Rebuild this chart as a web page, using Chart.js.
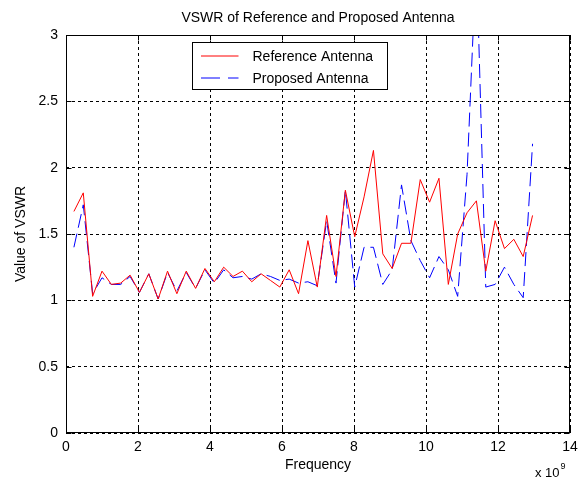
<!DOCTYPE html>
<html>
<head>
<meta charset="utf-8">
<title>VSWR of Reference and Proposed Antenna</title>
<script src="https://cdn.jsdelivr.net/npm/chart.js@4.4.1/dist/chart.umd.min.js"></script>
<style>
  html, body { margin: 0; padding: 0; background: #fff; }
  #chart { display: block; }
</style>
</head>
<body>
<canvas id="chart" width="585" height="481"></canvas>
<script>
// frequency points, in units of 1e9 Hz (axis shows "x 10^9")
const frequency = [
  0.22, 0.48, 0.74, 1.00, 1.26, 1.52, 1.78, 2.04, 2.30, 2.56,
  2.82, 3.08, 3.34, 3.60, 3.86, 4.12, 4.38, 4.64, 4.90, 5.16,
  5.42, 5.68, 5.94, 6.20, 6.46, 6.72, 6.98, 7.24, 7.50, 7.76,
  8.02, 8.28, 8.54, 8.80, 9.06, 9.32, 9.58, 9.84, 10.10, 10.36,
  10.62, 10.88, 11.14, 11.40, 11.66, 11.92, 12.18, 12.44, 12.70, 12.96
];

const referenceVswr = [
  1.67, 1.81, 1.03, 1.22, 1.12, 1.13, 1.19, 1.06, 1.20, 1.01,
  1.22, 1.05, 1.22, 1.09, 1.24, 1.14, 1.25, 1.18, 1.22, 1.14,
  1.20, 1.15, 1.10, 1.23, 1.05, 1.45, 1.10, 1.64, 1.18, 1.83,
  1.48, 1.78, 2.13, 1.35, 1.24, 1.43, 1.43, 1.91, 1.74, 1.92,
  1.12, 1.50, 1.66, 1.75, 1.22, 1.60, 1.39, 1.46, 1.33, 1.64
];

const proposedVswr = [
  1.40, 1.72, 1.05, 1.17, 1.12, 1.12, 1.18, 1.06, 1.20, 1.01,
  1.21, 1.07, 1.21, 1.09, 1.23, 1.13, 1.23, 1.17, 1.18, 1.16,
  1.20, 1.18, 1.15, 1.16, 1.13, 1.14, 1.11, 1.60, 1.13, 1.83,
  1.10, 1.40, 1.40, 1.12, 1.23, 1.87, 1.45, 1.30, 1.17, 1.33,
  1.23, 1.03, 1.95, 3.60, 1.10, 1.12, 1.25, 1.12, 1.02, 2.18
];

const xTicks = [0, 2, 4, 6, 8, 10, 12, 14];
const yTicks = [0, 0.5, 1, 1.5, 2, 2.5, 3];

const toPoints = (ys) => frequency.map((f, i) => ({ x: f, y: ys[i] }));

Chart.defaults.font.family = "'Liberation Sans', Arial, sans-serif";
Chart.defaults.font.size = 14;
Chart.defaults.color = '#000';

// matlab style: box around the axes, ticks pointing inward, legend box inside the plot
const matlabFrame = {
  id: 'matlabFrame',
  beforeDraw(chart) {
    const { ctx, width, height } = chart;
    ctx.save();
    ctx.fillStyle = '#fff';
    ctx.fillRect(0, 0, width, height);
    ctx.restore();
  },
  afterDraw(chart) {
    const { ctx, chartArea: a, scales: { x, y } } = chart;
    const left = Math.round(a.left) + 0.5;
    const right = Math.round(a.right) - 0.5;
    const top = Math.round(a.top) + 0.5;
    const bottom = Math.round(a.bottom) - 0.5;

    ctx.save();
    ctx.strokeStyle = '#000';
    ctx.lineWidth = 1;
    ctx.setLineDash([]);
    ctx.strokeRect(left, top, right - left, bottom - top);

    // inward tick marks
    ctx.beginPath();
    xTicks.forEach(v => {
      const px = Math.round(x.getPixelForValue(v)) + 0.5;
      ctx.moveTo(px, bottom); ctx.lineTo(px, bottom - 5);
      ctx.moveTo(px, top); ctx.lineTo(px, top + 5);
    });
    yTicks.forEach(v => {
      const py = Math.round(y.getPixelForValue(v)) + 0.5;
      ctx.moveTo(left, py); ctx.lineTo(left + 5, py);
      ctx.moveTo(right, py); ctx.lineTo(right - 5, py);
    });
    ctx.stroke();

    // legend box
    const lx = left + 126, ly = top + 7, lw = 195, lh = 47;
    ctx.fillStyle = '#fff';
    ctx.fillRect(lx, ly, lw, lh);
    ctx.strokeRect(lx, ly, lw, lh);

    const sets = chart.data.datasets;
    ctx.font = "14px 'Liberation Sans', Arial, sans-serif";
    ctx.textBaseline = 'middle';
    ctx.textAlign = 'left';
    sets.forEach((ds, i) => {
      const rowY = ly + 13.5 + i * 22;
      ctx.strokeStyle = ds.borderColor;
      ctx.setLineDash(i === 1 ? [19, 8] : []);
      ctx.beginPath();
      ctx.moveTo(lx + 8.5, rowY);
      ctx.lineTo(lx + 46, rowY);
      ctx.stroke();
      ctx.fillStyle = '#000';
      ctx.fillText(ds.label, lx + 60, rowY + 1);
    });

    // exponent label under the x axis
    ctx.setLineDash([]);
    ctx.fillStyle = '#000';
    ctx.textBaseline = 'alphabetic';
    ctx.font = "13px 'Liberation Sans', Arial, sans-serif";
    const base = 'x 10';
    ctx.fillText(base, 535, 477);
    const w = ctx.measureText(base).width;
    ctx.font = "9px 'Liberation Sans', Arial, sans-serif";
    ctx.fillText('9', 535 + w + 1, 469);
    ctx.restore();
  }
};

new Chart(document.getElementById('chart'), {
  type: 'line',
  data: {
    datasets: [
      {
        label: 'Reference Antenna',
        data: toPoints(referenceVswr),
        borderColor: '#ff0000',
        borderWidth: 1,
        pointRadius: 0,
        tension: 0,
        fill: false
      },
      {
        label: 'Proposed Antenna',
        data: toPoints(proposedVswr),
        borderColor: '#0000ff',
        borderWidth: 1,
        borderDash: [14, 6],
        pointRadius: 0,
        tension: 0,
        fill: false
      }
    ]
  },
  options: {
    responsive: false,
    animation: false,
    layout: { padding: { left: 0, right: 15, top: 0, bottom: 0 } },
    plugins: {
      legend: { display: false },
      tooltip: { enabled: false },
      title: {
        display: true,
        text: 'VSWR of Reference and Proposed Antenna',
        fullSize: false,
        font: { size: 14, weight: 'normal' },
        color: '#000',
        padding: { top: 10, bottom: 8.2 }
      }
    },
    scales: {
      x: {
        type: 'linear',
        min: 0,
        max: 14,
        afterBuildTicks: (scale) => { scale.ticks = xTicks.map(v => ({ value: v })); },
        afterFit: (scale) => { scale.height = 48; },
        grid: { color: '#000', lineWidth: 1, drawTicks: false },
        border: { display: false, dash: [3, 3] },
        ticks: { padding: 6, color: '#000', font: { size: 14 }, callback: (v) => String(v) },
        title: { display: true, text: 'Frequency', color: '#000', font: { size: 14 }, padding: { top: 0, bottom: 7 } }
      },
      y: {
        min: 0,
        max: 3,
        afterBuildTicks: (scale) => { scale.ticks = yTicks.map(v => ({ value: v })); },
        afterFit: (scale) => { scale.width = 66; },
        grid: { color: '#000', lineWidth: 1, drawTicks: false },
        border: { display: false, dash: [3, 3] },
        ticks: { padding: 8, color: '#000', font: { size: 14 }, callback: (v) => String(v) },
        title: { display: true, text: 'Value of VSWR', color: '#000', font: { size: 14 }, padding: { top: 13, bottom: 0 } }
      }
    }
  },
  plugins: [matlabFrame]
});
</script>
</body>
</html>
